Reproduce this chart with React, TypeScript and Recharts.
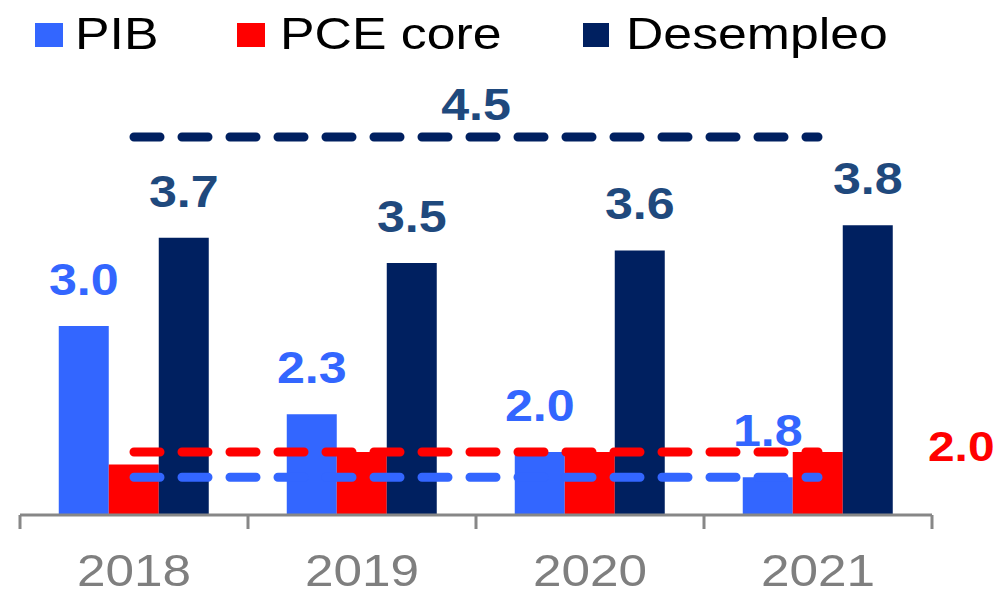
import React from "react";
import {
  ComposedChart,
  Bar,
  XAxis,
  YAxis,
  Legend,
  LabelList,
  ReferenceLine,
} from "recharts";

const years = ["2018", "2019", "2020", "2021"];
const pib = [3.0, 2.3, 2.0, 1.8];
const pceCore = [1.9, 2.0, 2.0, 2.0];
const desempleo = [3.7, 3.5, 3.6, 3.8];
const metaDesempleo = 4.5;
const metaPce = 2.0;
const metaPib = 1.8;

const BLUE = "#3366FF";
const RED = "#FF0000";
const NAVY = "#002060";
const NAVY_TEXT = "#1F497D";
const FONT = "'Liberation Sans', Arial, sans-serif";
const STRETCH = 1.14;

const data = years.map((year, i) => ({
  year,
  pib: pib[i],
  pce: pceCore[i],
  desempleo: desempleo[i],
}));

const legendItems = [
  { name: "PIB", color: BLUE, sq: 35, tx: 75, w: 28 },
  { name: "PCE core", color: RED, sq: 237, tx: 280, w: 28 },
  { name: "Desempleo", color: NAVY, sq: 583, tx: 626, w: 26 },
];

const renderLegend = () => (
  <svg width={1003} height={60}>
    {legendItems.map((it) => (
      <g key={it.name}>
        <rect x={it.sq} y={23} width={it.w} height={24} fill={it.color} />
        <text
          transform={`translate(${it.tx},49) scale(${STRETCH + 0.01},1)`}
          fontFamily={FONT}
          fontSize={45}
          fill="#000"
        >
          {it.name}
        </text>
      </g>
    ))}
  </svg>
);

const makeBarLabel = (color: string) => (props: any) => {
  const { x, y, width, value } = props;
  const cx = x + width / 2;
  return (
    <text
      transform={`translate(${cx},${y - 31}) scale(${STRETCH},1)`}
      textAnchor="middle"
      fontFamily={FONT}
      fontWeight="bold"
      fontSize={44}
      fill={color}
    >
      {Number(value).toFixed(1)}
    </text>
  );
};

const YearTick = (props: any) => {
  const { x, y, payload, index } = props;
  const off = payload.offset || 0;
  return (
    <g>
      <line x1={x - off} y1={y} x2={x - off} y2={y + 14} stroke="#878787" strokeWidth={3} />
      {index === years.length - 1 && (
        <line x1={x + off} y1={y} x2={x + off} y2={y + 14} stroke="#878787" strokeWidth={3} />
      )}
      <text
        transform={`translate(${x},${y + 71}) scale(${STRETCH},1)`}
        textAnchor="middle"
        fontFamily={FONT}
        fontSize={45}
        fill="#7F7F7F"
      >
        {payload.value}
      </text>
    </g>
  );
};

const dashProps = {
  strokeWidth: 9,
  strokeDasharray: "26 22",
  strokeLinecap: "round" as const,
};

export default function App() {
  return (
    <div style={{ position: "absolute", left: 0, top: 0 }}>
      <ComposedChart
        width={1003}
        height={590}
        data={data}
        margin={{ top: 11, right: 71, bottom: 0, left: 20 }}
        barCategoryGap="17%"
        barGap={0}
      >
        <XAxis
          dataKey="year"
          height={75}
          tickLine={false}
          tickSize={0}
          tickMargin={0}
          axisLine={{ stroke: "#878787", strokeWidth: 3 }}
          tick={<YearTick />}
          interval={0}
        />
        <YAxis hide domain={[1.5, 5.5]} allowDataOverflow />
        <Legend
          layout="horizontal"
          verticalAlign="middle"
          align="center"
          wrapperStyle={{ top: 0, left: 0, width: 1003, height: 60 }}
          content={renderLegend}
        />
        <Bar dataKey="pib" name="PIB" fill={BLUE} isAnimationActive={false}>
          <LabelList dataKey="pib" content={makeBarLabel(BLUE)} />
        </Bar>
        <Bar dataKey="pce" name="PCE core" fill={RED} isAnimationActive={false} />
        <Bar dataKey="desempleo" name="Desempleo" fill={NAVY} isAnimationActive={false}>
          <LabelList dataKey="desempleo" content={makeBarLabel(NAVY_TEXT)} />
        </Bar>
        <ReferenceLine
          segment={[
            { x: years[0], y: metaPib },
            { x: years[years.length - 1], y: metaPib },
          ]}
          stroke={BLUE}
          {...dashProps}
        />
        <ReferenceLine
          segment={[
            { x: years[0], y: metaPce },
            { x: years[years.length - 1], y: metaPce },
          ]}
          stroke={RED}
          {...dashProps}
          label={(p: any) => {
            const vb = p.viewBox;
            return (
              <text
                transform={`translate(${vb.x + vb.width + 110},${vb.y + 9}) scale(${STRETCH},1)`}
                fontFamily={FONT}
                fontWeight="bold"
                fontSize={42}
                fill={RED}
              >
                {metaPce.toFixed(1)}
              </text>
            );
          }}
        />
        <ReferenceLine
          segment={[
            { x: years[0], y: metaDesempleo },
            { x: years[years.length - 1], y: metaDesempleo },
          ]}
          stroke={NAVY}
          {...dashProps}
          label={(p: any) => {
            const vb = p.viewBox;
            return (
              <text
                transform={`translate(${vb.x + vb.width / 2},${vb.y - 17}) scale(${STRETCH},1)`}
                textAnchor="middle"
                fontFamily={FONT}
                fontWeight="bold"
                fontSize={44}
                fill={NAVY_TEXT}
              >
                {metaDesempleo.toFixed(1)}
              </text>
            );
          }}
        />
      </ComposedChart>
    </div>
  );
}
